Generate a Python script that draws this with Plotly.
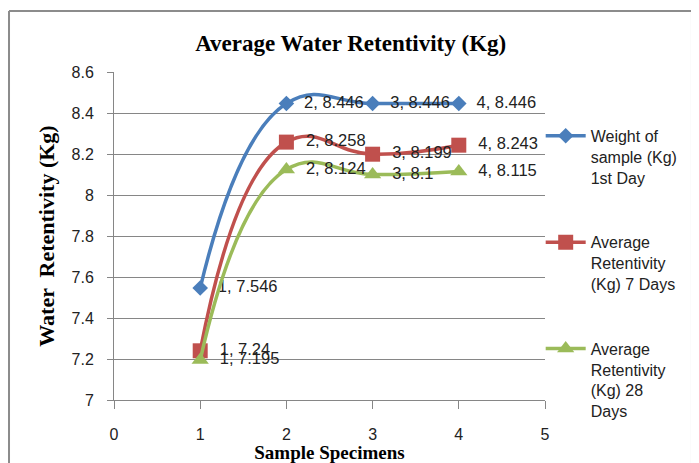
import plotly.graph_objects as go

specimens = [1, 2, 3, 4]
weight_1st_day = [7.546, 8.446, 8.446, 8.446]
ret_7_days = [7.24, 8.258, 8.199, 8.243]
ret_28_days = [7.195, 8.124, 8.1, 8.115]

series_names = ["Weight of<br>sample (Kg)<br>1st Day",
                "Average<br>Retentivity<br>(Kg) 7 Days",
                "Average<br>Retentivity<br>(Kg) 28<br>Days"]
series_values = [weight_1st_day, ret_7_days, ret_28_days]
colors = ["#4A7EBB", "#C0504D", "#9BBB59"]
symbols = ["diamond", "square", "triangle-up"]
msizes = [12, 15, 15]

title_text = "Average Water Retentivity (Kg)"
x_title = "Sample Specimens"
y_title = "Water  Retentivity (Kg)"

fig = go.Figure()
for i, (name, vals) in enumerate(zip(series_names, series_values)):
    labels = [f"  {x}, {v:g}" for x, v in zip(specimens, vals)]
    fig.add_trace(go.Scatter(
        x=specimens, y=vals, name=name, legendgroup=str(i),
        mode="lines+markers+text",
        line=dict(color=colors[i], width=3.5, shape="spline", smoothing=1.3),
        marker=dict(symbol=symbols[i], size=msizes[i], color=colors[i]),
        text=labels, textposition="middle right",
        textfont=dict(family="Liberation Sans", size=16.5, color="#222"),
        cliponaxis=False,
    ))

fig.update_layout(
    width=691, height=455,
    margin=dict(l=106, r=154, t=64, b=63, autoexpand=False),
    paper_bgcolor="white", plot_bgcolor="white",
    title=dict(text=f"<b>{title_text}</b>", x=0.496, xanchor="center", y=0.923, yanchor="middle",
               font=dict(family="Liberation Serif", size=23, color="black")),
    showlegend=True,
    legend=dict(x=0.99, xanchor="left", y=0.857, yanchor="top",
                font=dict(family="Liberation Sans", size=16, color="#222"),
                traceorder="grouped", tracegroupgap=41, valign="top",
                bgcolor="rgba(0,0,0,0)", itemwidth=40),
    font=dict(family="Liberation Sans", size=16, color="#222"),
)
fig.update_xaxes(range=[0, 5], dtick=1, showgrid=False, zeroline=False, automargin=False,
                 showline=True, linecolor="#868686", linewidth=1,
                 ticks="outside", ticklen=8, tickcolor="#868686",
                 ticklabelstandoff=12,
                 tickfont=dict(family="Liberation Sans", size=16, color="#222"),
                 title=dict(text=f"<b>{x_title}</b>", standoff=9,
                            font=dict(family="Liberation Serif", size=19, color="black")))
fig.update_yaxes(range=[7, 8.6], dtick=0.2, showgrid=True, gridcolor="#868686", gridwidth=1,
                 zeroline=False, showline=True, linecolor="#868686", linewidth=1, automargin=False,
                 ticks="outside", ticklen=6, tickcolor="#868686", ticklabelstandoff=10,
                 tickfont=dict(family="Liberation Sans", size=16, color="#222"),
                 title=dict(text=f"<b>{y_title}</b>", standoff=10,
                            font=dict(family="Liberation Serif", size=22, color="black")))

fx0, fx1, fy0, fy1 = -0.2436, 1.341, -0.3, 1.186
frame = dict(color="#8C8C8C", width=2)
for (a, b, c, d) in [(fx0, fy1, fx1, fy1), (fx0, fy0, fx0, fy1), (fx1, fy0, fx1, fy1)]:
    fig.add_shape(type="line", xref="paper", yref="paper", x0=a, y0=b, x1=c, y1=d,
                  line=frame, layer="above")

fig.write_html("out.html")
